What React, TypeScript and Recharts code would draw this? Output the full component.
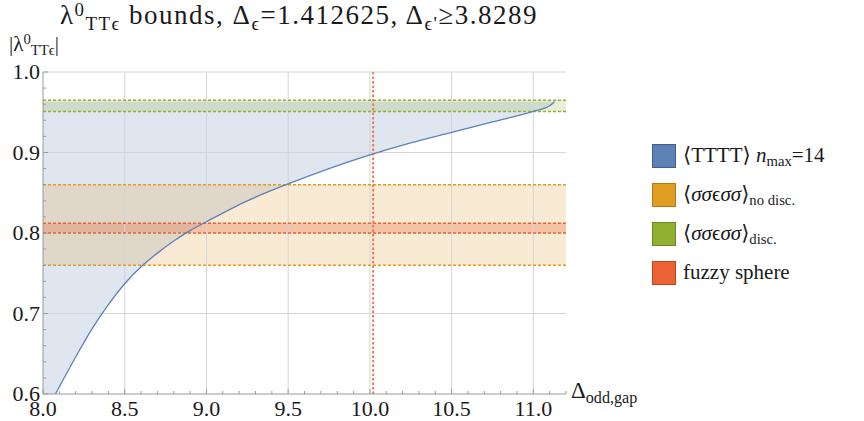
import { ComposedChart, Area, Line, XAxis, YAxis, ReferenceArea, ReferenceLine, Legend } from 'recharts';
import type { ReactNode } from 'react';

// lower bound of |lambda^0_TTe| from <TTTT>, nmax=14
const gapX = [8.0, 8.076, 8.1, 8.2, 8.3, 8.4, 8.5, 8.6, 8.7, 8.8, 8.9, 9.0, 9.25, 9.5, 9.75, 10.0, 10.25, 10.5, 10.75, 11.0, 11.1, 11.13];
const lowerBound = [null, 0.6, 0.609, 0.646, 0.681, 0.711, 0.737, 0.758, 0.775, 0.79, 0.803, 0.814, 0.84, 0.861, 0.88, 0.897,
  0.912, 0.925, 0.938, 0.951, 0.958, 0.963];
const upperBound = 0.963;
const yFloor = 0.6;

const noDiscBand = [0.76, 0.86];
const discBand = [0.951, 0.965];
const fuzzyBand = [0.8, 0.812];
const fuzzyGap = 10.02;

const xTicks = [8.0, 8.1, 8.2, 8.3, 8.4, 8.5, 8.6, 8.7, 8.8, 8.9, 9.0, 9.1, 9.2, 9.3, 9.4, 9.5, 9.6, 9.7, 9.8, 9.9, 10.0,
  10.1, 10.2, 10.3, 10.4, 10.5, 10.6, 10.7, 10.8, 10.9, 11.0, 11.1, 11.2];
const xMajor = [8.0, 8.5, 9.0, 9.5, 10.0, 10.5, 11.0];
const xLabels = ['8.0', '8.5', '9.0', '9.5', '10.0', '10.5', '11.0'];
const yTicks = [0.6, 0.62, 0.64, 0.66, 0.68, 0.7, 0.72, 0.74, 0.76, 0.78, 0.8, 0.82, 0.84, 0.86, 0.88, 0.9,
  0.92, 0.94, 0.96, 0.98, 1.0];
const yMajor = [0.6, 0.7, 0.8, 0.9, 1.0];
const yLabels = ['0.6', '0.7', '0.8', '0.9', '1.0'];

const blue = '#5E81B5';
const orange = '#E19C24';
const green = '#8FB032';
const red = '#EB6235';
const axisColor = '#9a9a9a';
const gridColor = '#d4d4d4';
const serif = "'Liberation Serif', 'DejaVu Serif', serif";

const rows = gapX.map((x, i) => ({
  x,
  low: lowerBound[i],
  range: [lowerBound[i] ?? yFloor, upperBound],
}));

const majorIndex = (list: number[], v: number) => list.findIndex((m) => Math.abs(m - v) < 1e-6);

const XTick = (props: any) => {
  const { x, y, payload } = props;
  const i = majorIndex(xMajor, payload.value);
  return (
    <g>
      <line x1={x} x2={x} y1={y} y2={y - (i >= 0 ? 5 : 3)} stroke={axisColor} />
      {i >= 0 && (
        <text x={x} y={y + 22} textAnchor="middle" fontSize={22} fontFamily={serif} fill="#1a1a1a">
          {xLabels[i]}
        </text>
      )}
    </g>
  );
};

const YTick = (props: any) => {
  const { x, y, payload } = props;
  const i = majorIndex(yMajor, payload.value);
  return (
    <g>
      <line x1={x} x2={x + (i >= 0 ? 5 : 3)} y1={y} y2={y} stroke={axisColor} />
      {i >= 0 && (
        <text x={x - 3} y={y + 7} textAnchor="end" fontSize={22} fontFamily={serif} fill="#1a1a1a">
          {yLabels[i]}
        </text>
      )}
    </g>
  );
};

const Sub = ({ children }: { children: ReactNode }) => (
  <span style={{ fontSize: '0.7em', position: 'relative', top: '0.3em' }}>{children}</span>
);
const Sup = ({ children }: { children: ReactNode }) => (
  <span style={{ fontSize: '0.7em', position: 'relative', top: '-0.45em' }}>{children}</span>
);

const legendItems: { color: string; border: string; label: ReactNode }[] = [
  { color: blue, border: '#3f5f8f', label: <>⟨TTTT⟩ <i>n</i><Sub>max</Sub>=14</> },
  { color: orange, border: '#b57a12', label: <>⟨<i>σσ</i>ϵ<i>σσ</i>⟩<Sub>no disc.</Sub></> },
  { color: green, border: '#6c8a1e', label: <>⟨<i>σσ</i>ϵ<i>σσ</i>⟩<Sub>disc.</Sub></> },
  { color: red, border: '#c2441c', label: <>fuzzy sphere</> },
];

const LegendBox = () => (
  <div style={{ fontFamily: serif, fontSize: 21, color: '#1a1a1a' }}>
    {legendItems.map((item, i) => (
      <div key={i} style={{ display: 'flex', alignItems: 'center', height: 39 }}>
        <div
          style={{
            width: 22,
            height: 22,
            background: item.color,
            border: `1px solid ${item.border}`,
            marginRight: 7,
            flexShrink: 0,
          }}
        />
        <span style={{ whiteSpace: 'nowrap' }}>{item.label}</span>
      </div>
    ))}
  </div>
);

export default function App() {
  return (
    <div style={{ position: 'absolute', left: 0, top: 0, width: 864, height: 421, background: '#fff', fontFamily: serif }}>
      <div
        style={{
          position: 'absolute',
          left: 0,
          width: 598,
          top: 0,
          textAlign: 'center',
          fontSize: 27,
          letterSpacing: 1.5,
          color: '#1a1a1a',
          whiteSpace: 'nowrap',
        }}
      >
        λ<Sup>0</Sup><Sub>TTϵ</Sub> bounds, Δ<Sub>ϵ</Sub>=1.412625, Δ<Sub>ϵ'</Sub>≥3.8289
      </div>
      <div style={{ position: 'absolute', left: 9, top: 32, fontSize: 21, color: '#1a1a1a' }}>
        |λ<Sup>0</Sup><Sub>TTϵ</Sub>|
      </div>
      <div style={{ position: 'absolute', left: 571, top: 378, fontSize: 23, color: '#1a1a1a' }}>
        Δ<Sub>odd,gap</Sub>
      </div>
      <ComposedChart width={864} height={421} data={rows} margin={{ top: 72, right: 298, bottom: 0, left: 0 }}>
        {xMajor.slice(1).map((v) => (
          <ReferenceLine key={`gx${v}`} x={v} stroke={gridColor} strokeWidth={1} />
        ))}
        {yMajor.slice(1).map((v) => (
          <ReferenceLine key={`gy${v}`} y={v} stroke={gridColor} strokeWidth={1} />
        ))}
        <XAxis
          dataKey="x"
          type="number"
          domain={[8, 11.2]}
          ticks={xTicks}
          interval={0}
          height={27}
          tickSize={0}
          tickMargin={0}
          tickLine={false}
          tick={<XTick />}
          axisLine={{ stroke: axisColor }}
          allowDataOverflow
        />
        <YAxis
          type="number"
          domain={[0.6, 1.0]}
          ticks={yTicks}
          interval={0}
          width={43}
          tickSize={0}
          tickMargin={0}
          tickLine={false}
          tick={<YTick />}
          axisLine={{ stroke: axisColor }}
          allowDataOverflow
        />
        <Area
          dataKey="range"
          type="monotone"
          stroke="none"
          fill={blue}
          fillOpacity={0.2}
          isAnimationActive={false}
        />
        <ReferenceArea y1={noDiscBand[0]} y2={noDiscBand[1]} fill={orange} fillOpacity={0.2} stroke="none" />
        <ReferenceArea y1={discBand[0]} y2={discBand[1]} fill={green} fillOpacity={0.2} stroke="none" />
        <ReferenceArea y1={fuzzyBand[0]} y2={fuzzyBand[1]} fill={red} fillOpacity={0.3} stroke="none" />
        {noDiscBand.map((v) => (
          <ReferenceLine key={`o${v}`} y={v} stroke={orange} strokeWidth={1.5} strokeDasharray="3 2" />
        ))}
        {discBand.map((v) => (
          <ReferenceLine key={`g${v}`} y={v} stroke={green} strokeWidth={1.5} strokeDasharray="3 2" />
        ))}
        {fuzzyBand.map((v) => (
          <ReferenceLine key={`r${v}`} y={v} stroke={red} strokeWidth={1.5} strokeDasharray="3 2" />
        ))}
        <ReferenceLine x={fuzzyGap} stroke="#f07a55" strokeWidth={2} strokeDasharray="2.5 2" />
        <Line
          dataKey="low"
          type="monotone"
          stroke={blue}
          strokeWidth={1.3}
          dot={false}
          isAnimationActive={false}
        />
        <Legend
          layout="vertical"
          align="center"
          verticalAlign="middle"
          content={<LegendBox />}
          wrapperStyle={{ left: 652, top: 136, width: 212 }}
        />
      </ComposedChart>
    </div>
  );
}
